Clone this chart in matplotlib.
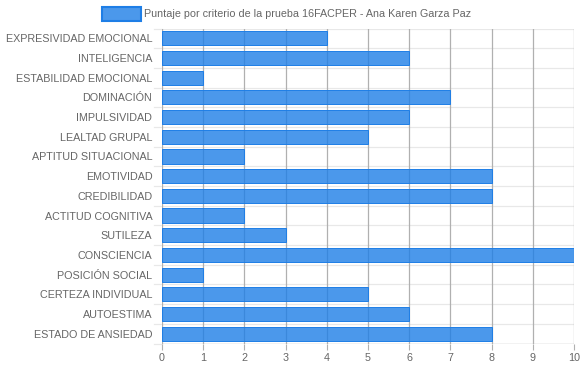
import numpy as np
import matplotlib
matplotlib.use("Agg")
import matplotlib.pyplot as plt
from matplotlib.patches import Rectangle

# data
criterios = ["EXPRESIVIDAD EMOCIONAL", "INTELIGENCIA", "ESTABILIDAD EMOCIONAL",
             "DOMINACIÓN", "IMPULSIVIDAD", "LEALTAD GRUPAL", "APTITUD SITUACIONAL",
             "EMOTIVIDAD", "CREDIBILIDAD", "ACTITUD COGNITIVA", "SUTILEZA",
             "CONSCIENCIA", "POSICIÓN SOCIAL", "CERTEZA INDIVIDUAL", "AUTOESTIMA",
             "ESTADO DE ANSIEDAD"]
puntajes = [4, 6, 1, 7, 6, 5, 2, 8, 8, 2, 3, 10, 1, 5, 6, 8]
serie = "Puntaje por criterio de la prueba 16FACPER - Ana Karen Garza Paz"
x_ticks = list(range(0, 11))

plt.rcParams['font.family'] = ['Liberation Sans', 'DejaVu Sans']
txt = '#666666'
fsize = 7.75

fig = plt.figure(figsize=(5.83, 3.68), dpi=100)
ax = fig.add_axes([162 / 583, 1 - 343.5 / 368, 412 / 583, 315 / 368])

y = np.arange(len(criterios))
ax.barh(y, puntajes, height=0.72, color=(30/255, 126/255, 230/255, 0.8),
        edgecolor='#1e7ee6', linewidth=0.7, zorder=3)

ax.set_xlim(0, 10)
ax.set_ylim(len(criterios) - 0.5, -0.5)
ax.set_xticks(x_ticks)
ax.set_yticks(y)
ax.set_yticklabels(criterios)

# grid lines
for v in x_ticks:
    ax.axvline(v, color='#b0b0b0', lw=0.9, zorder=1)
for b in np.arange(-0.5, len(criterios), 1):
    ax.axhline(b, color='#e8e8e8', lw=0.9, zorder=0)
    ax.plot([-0.2, 0], [b, b], color='#e8e8e8', lw=0.9, clip_on=False, zorder=0)

for s in ax.spines.values():
    s.set_visible(False)
ax.axhline(len(criterios) - 0.5, color='#b0b0b0', lw=0.9, zorder=2)

ax.tick_params(axis='y', length=0, pad=7, labelsize=fsize, labelcolor=txt)
ax.tick_params(axis='x', length=4, color='#b0b0b0', pad=3, labelsize=fsize, labelcolor=txt)

# legend
fig.patches.append(Rectangle((102 / 583, 1 - 21 / 368), 38.5 / 583, 14 / 368,
                             transform=fig.transFigure, facecolor=(30/255, 126/255, 230/255, 0.8),
                             edgecolor='#1e7ee6', linewidth=1.5))
fig.text(144 / 583, 1 - 14 / 368, serie, ha='left', va='center', fontsize=fsize, color=txt)

fig.savefig("out.png", dpi=100)
